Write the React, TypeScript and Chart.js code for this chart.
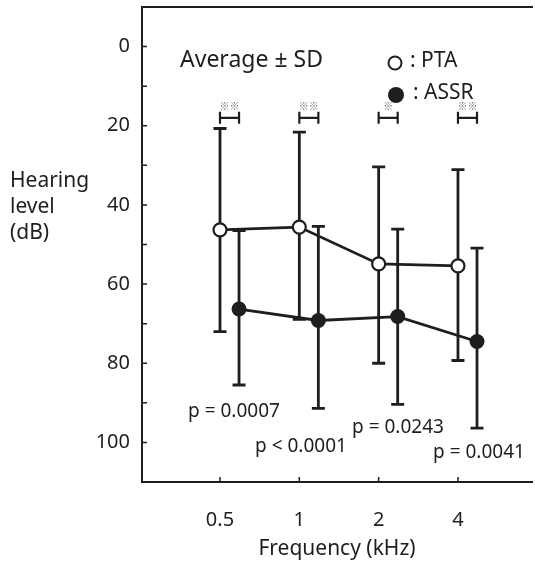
import React, { useEffect, useRef } from 'react';
import { Chart, registerables } from 'chart.js';

Chart.register(...registerables);

// ---- data ----
const categories = ['0.5', '1', '2', '4'];
const ptaMean = [46.3, 45.6, 54.9, 55.4];
const ptaErrTop = [20.7, 21.6, 30.4, 31.1];
const ptaErrBottom = [72.0, 68.9, 80.0, 79.3];
const assrMean = [66.3, 69.2, 68.2, 74.5];
const assrErrTop = [46.5, 45.4, 46.1, 50.9];
const assrErrBottom = [85.5, 91.4, 90.4, 96.4];
const sigMarks = ['※※', '※※', '※', '※※'];
const pLabels = ['p = 0.0007', 'p < 0.0001', 'p = 0.0243', 'p = 0.0041'];
const yTickLabels = [0, 20, 40, 60, 80, 100];
const yMinorTicks = [0, 10, 20, 30, 40, 50, 60, 70, 80, 90, 100];

const ASSR_OFFSET = 0.24;
const FONT = '"Noto Sans", "Open Sans", sans-serif';
const INK = '#1e1e1e';

const overlay = {
  id: 'overlay',
  beforeDatasetsDraw(chart: any) {
    const { ctx, scales } = chart;
    const xs = scales.x;
    const ys = scales.y;
    ctx.save();
    ctx.strokeStyle = INK;
    ctx.lineWidth = 2.8;
    const series = [
      { tops: ptaErrTop, bottoms: ptaErrBottom, off: 0 },
      { tops: assrErrTop, bottoms: assrErrBottom, off: ASSR_OFFSET },
    ];
    series.forEach((s) => {
      s.tops.forEach((t, j) => {
        const x = xs.getPixelForValue(j + 1 + s.off);
        const y1 = ys.getPixelForValue(t);
        const y2 = ys.getPixelForValue(s.bottoms[j]);
        ctx.beginPath();
        ctx.moveTo(x, y1);
        ctx.lineTo(x, y2);
        ctx.moveTo(x - 6.5, y1);
        ctx.lineTo(x + 6.5, y1);
        ctx.moveTo(x - 6.5, y2);
        ctx.lineTo(x + 6.5, y2);
        ctx.stroke();
      });
    });
    ctx.restore();
  },
  afterDraw(chart: any) {
    const { ctx, scales, chartArea } = chart;
    const xs = scales.x;
    const ys = scales.y;
    const { left, right, top, bottom } = chartArea;
    ctx.save();
    // frame
    ctx.strokeStyle = INK;
    ctx.lineWidth = 2;
    ctx.beginPath();
    ctx.moveTo(right - 2, top);
    ctx.lineTo(left, top);
    ctx.lineTo(left, bottom);
    ctx.lineTo(right - 2, bottom);
    ctx.stroke();
    // inward ticks
    ctx.lineWidth = 1.5;
    ctx.beginPath();
    yMinorTicks.forEach((v) => {
      const y = ys.getPixelForValue(v);
      ctx.moveTo(left, y);
      ctx.lineTo(left + 5, y);
    });
    categories.forEach((_, j) => {
      const x = xs.getPixelForValue(j + 1);
      ctx.moveTo(x, bottom);
      ctx.lineTo(x, bottom - 5);
    });
    ctx.stroke();

    // significance brackets
    const by = ys.getPixelForValue(18);
    ctx.lineWidth = 2.2;
    categories.forEach((_, j) => {
      const x1 = xs.getPixelForValue(j + 1);
      const x2 = xs.getPixelForValue(j + 1 + ASSR_OFFSET);
      ctx.beginPath();
      ctx.moveTo(x1, by - 6);
      ctx.lineTo(x1, by + 6);
      ctx.moveTo(x2, by - 6);
      ctx.lineTo(x2, by + 6);
      ctx.moveTo(x1, by);
      ctx.lineTo(x2, by);
      ctx.stroke();
      ctx.fillStyle = '#666';
      ctx.font = '10px "Noto Sans CJK JP", sans-serif';
      ctx.textAlign = 'center';
      ctx.textBaseline = 'middle';
      ctx.fillText(sigMarks[j], (x1 + x2) / 2, by - 12);
    });

    // texts
    ctx.fillStyle = INK;
    ctx.textAlign = 'left';
    ctx.textBaseline = 'middle';
    ctx.font = `23px ${FONT}`;
    ctx.fillText('Average ± SD', 180, 60);

    // legend
    ctx.font = `21px ${FONT}`;
    ctx.fillText(': PTA', 410, 61);
    ctx.fillText(': ASSR', 413, 93);
    ctx.lineWidth = 2;
    ctx.beginPath();
    ctx.arc(395, 63, 6.5, 0, Math.PI * 2);
    ctx.fillStyle = '#fff';
    ctx.fill();
    ctx.stroke();
    ctx.beginPath();
    ctx.arc(396, 95, 8, 0, Math.PI * 2);
    ctx.fillStyle = INK;
    ctx.fill();

    // p values
    ctx.font = `19px ${FONT}`;
    const pPos = [
      [188, 412],
      [255, 447],
      [352, 428],
      [433, 453],
    ];
    pLabels.forEach((t, j) => ctx.fillText(t, pPos[j][0], pPos[j][1]));

    // y title
    ctx.font = `21px ${FONT}`;
    ['Hearing', 'level', '(dB)'].forEach((t, i) => ctx.fillText(t, 10, 181 + i * 26));

    // x title
    ctx.textAlign = 'center';
    ctx.fillText('Frequency (kHz)', 337, 549);
    ctx.restore();
  },
};

export default function App() {
  const ref = useRef<HTMLCanvasElement>(null);
  useEffect(() => {
    document.body.style.margin = '0';
    const c = new Chart(ref.current!, {
      type: 'line',
      data: {
        datasets: [
          {
            label: 'PTA',
            data: ptaMean.map((v, j) => ({ x: j + 1, y: v })),
            borderColor: INK,
            borderWidth: 2.8,
            pointRadius: 6.5,
            pointBorderWidth: 2.2,
            pointBackgroundColor: '#fff',
            pointBorderColor: INK,
          },
          {
            label: 'ASSR',
            data: assrMean.map((v, j) => ({ x: j + 1 + ASSR_OFFSET, y: v })),
            borderColor: INK,
            borderWidth: 2.8,
            pointRadius: 7.5,
            pointBorderWidth: 0,
            pointBackgroundColor: INK,
            pointBorderColor: INK,
          },
        ],
      },
      options: {
        animation: false,
        responsive: false,
        maintainAspectRatio: false,
        layout: { autoPadding: false, padding: { top: 7, right: 0, left: 0, bottom: 0 } },
        plugins: { legend: { display: false }, tooltip: { enabled: false } },
        scales: {
          x: {
            type: 'linear',
            min: 0.0168,
            max: 4.971,
            grid: { display: false, drawTicks: false },
            border: { display: false },
            afterBuildTicks: (s: any) => {
              s.ticks = categories.map((_, j) => ({ value: j + 1 }));
            },
            afterFit: (s: any) => {
              s.height = 80;
              s.paddingLeft = 0;
              s.paddingRight = 0;
            },
            ticks: {
              padding: 26,
              color: INK,
              font: { family: FONT, size: 20 },
              callback: (v: any) => categories[Math.round(Number(v)) - 1] ?? '',
              autoSkip: false,
              maxRotation: 0,
            },
          },
          y: {
            type: 'linear',
            reverse: true,
            min: -10,
            max: 110,
            grid: { display: false, drawTicks: false },
            border: { display: false },
            afterBuildTicks: (s: any) => {
              s.ticks = yTickLabels.map((v) => ({ value: v }));
            },
            afterFit: (s: any) => {
              s.width = 142;
              s.paddingTop = 0;
              s.paddingBottom = 0;
            },
            ticks: {
              padding: 12,
              color: INK,
              font: { family: FONT, size: 20 },
              autoSkip: false,
            },
          },
        },
      },
      plugins: [overlay],
    });
    return () => c.destroy();
  }, []);
  return (
    <div style={{ position: 'absolute', left: 0, top: 0, width: 535, height: 562, background: '#fff' }}>
      <canvas ref={ref} width={535} height={562} style={{ width: 535, height: 562 }} />
    </div>
  );
}
